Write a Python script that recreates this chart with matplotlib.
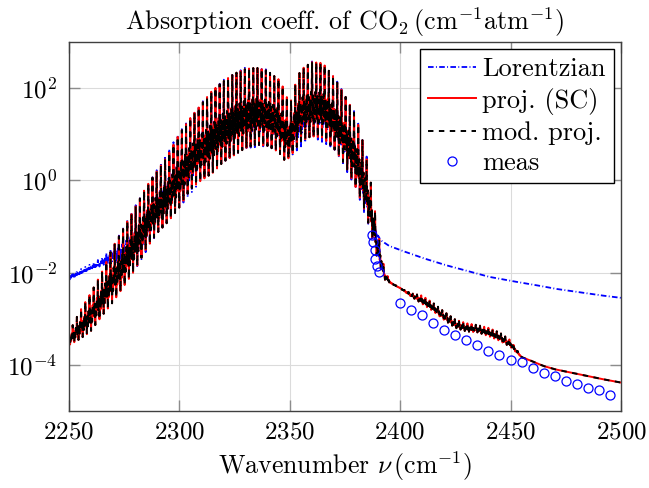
import matplotlib
matplotlib.use("Agg")
import matplotlib.pyplot as plt
import numpy as np
from matplotlib.ticker import NullLocator

plt.rcParams['font.family'] = 'serif'
plt.rcParams['font.serif'] = ['cmr10']
plt.rcParams['mathtext.fontset'] = 'cm'
plt.rcParams['axes.formatter.use_mathtext'] = True

# Envelopes of the band (log10 of absorption coeff.)
nu_env = [2250, 2255, 2260, 2265, 2270, 2275, 2280, 2285, 2290, 2295,
          2300, 2305, 2310, 2315, 2320, 2325, 2330, 2335, 2340, 2345,
          2348, 2350, 2352, 2355, 2360, 2365, 2370, 2375, 2380, 2384,
          2387, 2390, 2393, 2396, 2400, 2405, 2410, 2415, 2420, 2425,
          2430, 2435, 2440, 2445, 2450, 2455, 2460, 2465, 2470, 2480, 2490, 2500]
sc_hi = [-3.32, -2.85, -2.45, -2.0, -1.45, -1.03, -0.6, -0.15, 0.2, 0.55,
         1.0, 1.35, 1.65, 1.95, 2.15, 2.32, 2.42, 2.45, 2.38, 2.2,
         1.95, 1.6, 2.0, 2.4, 2.57, 2.55, 2.25, 1.85, 1.4, 0.7,
         -0.1, -1.1, -1.95, -2.22, -2.33, -2.45, -2.5, -2.66, -2.85, -3.02,
         -3.1, -3.14, -3.2, -3.3, -3.47, -3.83, -3.93, -4.03, -4.1, -4.2, -4.3, -4.39]
sc_lo = [-3.58, -3.45, -3.28, -2.95, -2.65, -2.3, -1.95, -1.5, -1.15, -0.9,
         -0.6, -0.2, 0.0, 0.15, 0.4, 0.55, 0.7, 0.78, 0.75, 0.62,
         0.42, 0.5, 0.63, 0.85, 0.96, 0.93, 0.7, 0.35, -0.15, -0.65,
         -1.15, -1.75, -2.15, -2.24, -2.34, -2.52, -2.68, -2.84, -3.03, -3.2,
         -3.28, -3.3, -3.38, -3.48, -3.62, -3.84, -3.93, -4.03, -4.1, -4.2, -4.3, -4.39]

# Lorentzian envelopes (log10)
nu_lor = [2250, 2255, 2260, 2265, 2270, 2275, 2280, 2290, 2300, 2310,
          2320, 2330, 2340, 2350, 2360, 2370, 2380, 2385, 2388, 2391,
          2395, 2400, 2410, 2420, 2430, 2440, 2450, 2460, 2470, 2480, 2490, 2500]
lor_hi = [-2.04, -1.94, -1.82, -1.68, -1.45, -1.0, -0.57, 0.23, 1.03, 1.68,
          2.18, 2.45, 2.41, 1.62, 2.59, 2.28, 1.44, 0.5, -0.9, -1.29,
          -1.42, -1.51, -1.68, -1.83, -1.96, -2.09, -2.18, -2.26, -2.35, -2.42, -2.49, -2.55]
lor_lo = [-2.16, -2.06, -1.95, -1.85, -1.75, -1.9, -1.95, -1.15, -0.6, 0.0,
          0.4, 0.7, 0.75, 0.5, 0.96, 0.7, -0.15, -0.9, -1.1, -1.29,
          -1.42, -1.51, -1.68, -1.83, -1.96, -2.09, -2.18, -2.26, -2.35, -2.42, -2.49, -2.55]

# measured points
nu_meas = [2387.4, 2387.9, 2388.5, 2388.9, 2389.7, 2390.4,
           2400, 2405, 2410, 2415, 2420, 2425, 2430, 2435, 2440, 2445,
           2450, 2455, 2460, 2465, 2470, 2475, 2480, 2485, 2490, 2495]
log_meas = [-1.18, -1.33, -1.51, -1.70, -1.86, -1.98,
            -2.66, -2.81, -2.93, -3.10, -3.24, -3.36, -3.46, -3.58, -3.70, -3.80,
            -3.89, -3.95, -4.08, -4.18, -4.25, -4.35, -4.43, -4.50, -4.56, -4.65]

line_spacing = 1.9  # cm^-1 between rotational lines
pattern = [1.0, 0.25, 0.55, 0.0, 0.5, 0.2, 0.6, 0.3]


def zigzag(nu_e, hi, lo):
    step = line_spacing / len(pattern)
    nu = np.arange(2250, 2500 + step / 2, step)
    f = np.resize(pattern, nu.size)
    h = np.interp(nu, nu_e, hi)
    l = np.interp(nu, nu_e, lo)
    return nu, 10 ** (l + f * (h - l))


fig = plt.figure(figsize=(6.49, 4.88), dpi=100)
ax = fig.add_axes([68.5 / 649, 1 - 410.7 / 488, (621 - 68.5) / 649, (410.7 - 42.3) / 488])

x, y = zigzag(nu_lor, lor_hi, lor_lo)
ax.plot(x, y, color='blue', lw=1.3, ls=(0, (3.1, 1.3, 0.5, 1.3)), label='Lorentzian')
x, y = zigzag(nu_env, sc_hi, sc_lo)
ax.plot(x, y, color='red', lw=1.4, label='proj. (SC)')
ax.plot(x, y, color='black', lw=1.4, ls=(0, (2.8, 2.8)), label='mod. proj.')
ax.plot(nu_meas, 10 ** np.array(log_meas), 'o', ms=6.5, mfc='none', mec='blue',
        mew=0.9, label='meas')

ax.set_yscale('log')
ax.set_xlim(2250, 2500)
ax.set_ylim(1e-5, 1e3)
ax.set_xticks([2250, 2300, 2350, 2400, 2450, 2500])
ax.set_yticks([1e-4, 1e-2, 1, 1e2])
ax.yaxis.set_minor_locator(NullLocator())
ax.tick_params(direction='in', length=8, width=1, color='0.55', labelsize=18,
               top=True, right=True, pad=8)
ax.grid(True, color='0.86', lw=0.8)
ax.set_axisbelow(True)
for s in ax.spines.values():
    s.set_color('0.25')
    s.set_linewidth(1.0)

ax.set_title(r'Absorption coeff. of $\mathrm{CO}_2\,(\mathrm{cm}^{-1}\mathrm{atm}^{-1})$',
             fontsize=18.8, pad=9)
ax.set_xlabel(r'Wavenumber $\nu\,(\mathrm{cm}^{-1})$', fontsize=18.6, labelpad=4)

leg = ax.legend(loc='upper right', fontsize=19, frameon=True, fancybox=False,
                framealpha=1, edgecolor='black', handlelength=1.8,
                labelspacing=0.25, borderpad=0.3, handletextpad=0.25,
                borderaxespad=0.27)
leg.get_frame().set_linewidth(1.0)

fig.savefig('out.png', dpi=100)
